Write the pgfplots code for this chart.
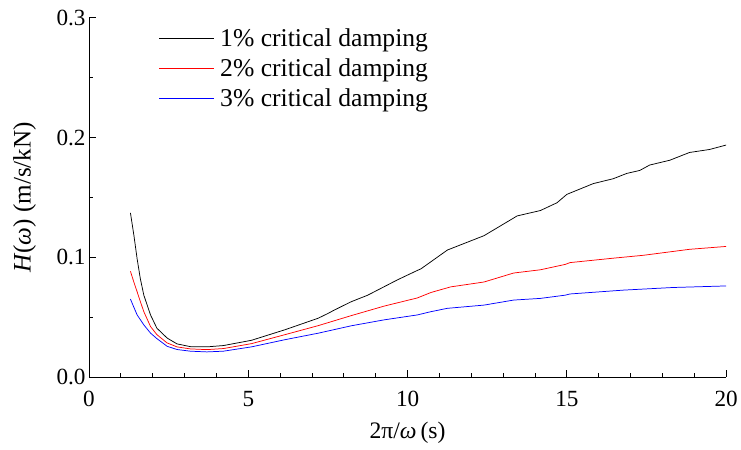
\documentclass[border=0pt]{standalone}
\usepackage{fontspec}
\setmainfont{Liberation Serif}
\usepackage{pgfplots}
\pgfplotsset{compat=1.18}

% Frequency response of the damped system for three damping ratios
\pgfplotstableread{
x y
1.30 0.1370
1.41 0.1180
1.51 0.0986
1.61 0.0821
1.72 0.0683
1.93 0.0518
2.13 0.0407
2.45 0.0325
2.76 0.0276
3.18 0.0253
3.70 0.0251
4.22 0.0262
5.10 0.0306
6.15 0.0394
7.19 0.0490
7.50 0.0530
7.71 0.0560
8.23 0.0628
8.75 0.0683
9.69 0.0812
10.31 0.0890
10.42 0.0903
11.25 0.1060
12.40 0.1180
13.44 0.1345
14.17 0.1390
14.69 0.1455
15.00 0.1525
15.83 0.1615
16.46 0.1656
16.88 0.1700
17.29 0.1725
17.60 0.1770
18.23 0.1810
18.85 0.1875
19.48 0.1900
20.00 0.1937
}\dampA
\pgfplotstableread{
x y
1.30 0.0882
1.41 0.0790
1.51 0.0711
1.61 0.0630
1.72 0.0545
1.93 0.0421
2.13 0.0353
2.45 0.0284
2.76 0.0251
3.18 0.0234
3.70 0.0228
4.22 0.0237
5.10 0.0278
6.15 0.0353
7.19 0.0428
8.23 0.0512
9.27 0.0592
10.31 0.0660
10.73 0.0705
11.35 0.0752
12.40 0.0793
13.33 0.0868
14.17 0.0895
14.95 0.0940
15.10 0.0955
16.46 0.0992
17.40 0.1016
18.85 0.1066
20.00 0.1090
}\dampB
\pgfplotstableread{
x y
1.30 0.0650
1.41 0.0580
1.51 0.0518
1.72 0.0435
1.93 0.0366
2.13 0.0320
2.45 0.0256
2.76 0.0229
3.18 0.0215
3.70 0.0209
4.22 0.0215
5.10 0.0251
6.15 0.0311
7.19 0.0365
8.23 0.0427
9.27 0.0477
10.31 0.0518
10.73 0.0545
11.25 0.0573
12.40 0.0600
13.33 0.0642
14.17 0.0656
14.95 0.0683
15.10 0.0693
16.77 0.0725
18.33 0.0747
20.00 0.0760
}\dampC

\begin{document}
\begin{tikzpicture}
\begin{axis}[
  name=ax,
  scale only axis,
  width=644bp, height=363bp,
  xmin=0, xmax=20, ymin=0, ymax=0.3,
  axis x line*=bottom, axis y line*=left,
  axis line style={line width=0.8pt,-},
  tick align=inside,
  xtick={0,5,...,20}, minor x tick num=4,
  ytick={0,0.1,0.2,0.3}, minor y tick num=1,
  major tick length=7bp, minor tick length=4bp,
  every tick/.style={line width=0.8pt, black},
  /pgf/number format/assume math mode=true,
  yticklabel style={/pgf/number format/.cd, fixed, fixed zerofill, precision=1},
  xticklabel style={yshift=-11bp},
  ticklabel style={font=\fontsize{23.5}{27}\selectfont},
  xlabel={2π/\textit{ω}\,(s)},
  ylabel={\textit{H}(\textit{ω}) (m/s/kN)},
  every axis x label/.style={at={(axis description cs:0.5,-0.157)}, anchor=center,
    font=\fontsize{24}{28}\selectfont},
  every axis y label/.style={at={(axis description cs:-0.101,0.5)}, anchor=center,
    rotate=90, font=\fontsize{25.5}{30}\selectfont},
  legend style={draw=none, fill=none, at={(axis cs:2.10,0.2947)}, anchor=north west,
    font=\fontsize{26}{30}\selectfont, row sep=7bp, column sep=4bp},
  legend cell align=left,
  legend image code/.code={\draw[line width=0.8pt,#1] (0bp,0bp) -- (55bp,0bp);},
]
\addplot[black, line width=0.75pt, forget plot] table {\dampA};
\addplot[red, line width=0.75pt, forget plot] table {\dampB};
\addplot[blue, line width=0.75pt, forget plot] table {\dampC};
\addlegendimage{draw=black}
\addlegendentry{1\% critical damping}
\addlegendimage{draw=red}
\addlegendentry{2\% critical damping}
\addlegendimage{draw=blue}
\addlegendentry{3\% critical damping}
\end{axis}
% page frame around the axis and its labels
\path[use as bounding box] ([shift={(-90bp,-73bp)}]ax.south west)
  rectangle ([shift={(7bp,18bp)}]ax.north east);
\end{tikzpicture}
\end{document}
